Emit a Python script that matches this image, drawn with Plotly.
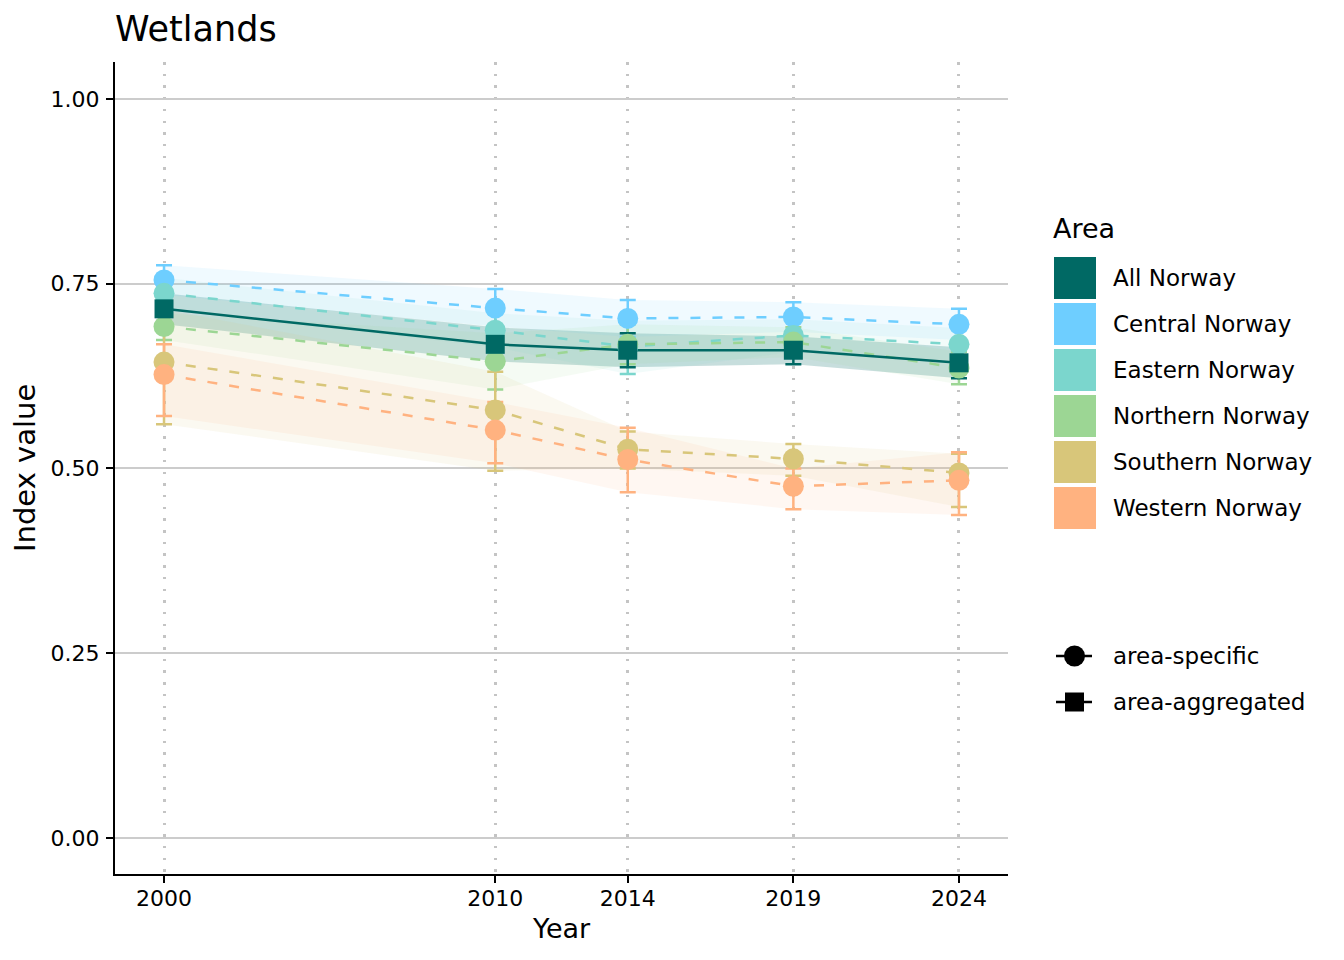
import plotly.graph_objects as go

# ---------------- data ----------------
years = [2000, 2010, 2014, 2019, 2024]
year_labels = ["2000", "2010", "2014", "2019", "2024"]
y_ticks = [0.0, 0.25, 0.5, 0.75, 1.0]
y_tick_labels = ["0.00", "0.25", "0.50", "0.75", "1.00"]

areas = ["All Norway", "Central Norway", "Eastern Norway",
         "Northern Norway", "Southern Norway", "Western Norway"]

all_mean = [0.716, 0.668, 0.660, 0.660, 0.643]
all_low = [0.695, 0.645, 0.637, 0.641, 0.622]
all_high = [0.737, 0.691, 0.683, 0.679, 0.664]

central_mean = [0.755, 0.717, 0.703, 0.705, 0.695]
central_low = [0.735, 0.692, 0.678, 0.685, 0.674]
central_high = [0.775, 0.743, 0.728, 0.725, 0.716]

eastern_mean = [0.737, 0.687, 0.665, 0.680, 0.668]
eastern_low = [0.716, 0.664, 0.628, 0.658, 0.646]
eastern_high = [0.758, 0.710, 0.700, 0.702, 0.690]

northern_mean = [0.692, 0.645, 0.668, 0.671, 0.636]
northern_low = [0.674, 0.607, 0.641, 0.651, 0.614]
northern_high = [0.710, 0.683, 0.695, 0.691, 0.658]

southern_mean = [0.644, 0.579, 0.526, 0.513, 0.494]
southern_low = [0.560, 0.497, 0.500, 0.490, 0.448]
southern_high = [0.715, 0.631, 0.550, 0.533, 0.520]

western_mean = [0.627, 0.552, 0.512, 0.476, 0.484]
western_low = [0.571, 0.507, 0.468, 0.445, 0.437]
western_high = [0.668, 0.590, 0.555, 0.500, 0.522]

series = {
    "All Norway": (all_mean, all_low, all_high),
    "Central Norway": (central_mean, central_low, central_high),
    "Eastern Norway": (eastern_mean, eastern_low, eastern_high),
    "Northern Norway": (northern_mean, northern_low, northern_high),
    "Southern Norway": (southern_mean, southern_low, southern_high),
    "Western Norway": (western_mean, western_low, western_high),
}

colors = {
    "All Norway": "#006964",
    "Central Norway": "#6ECEFF",
    "Eastern Norway": "#7BD6CD",
    "Northern Norway": "#9CD694",
    "Southern Norway": "#D8C67A",
    "Western Norway": "#FFB280",
}

shape_labels = ["area-specific", "area-aggregated"]

# ---------------- layout geometry (screen pixels) ----------------
SCREEN_W, SCREEN_H = 1344, 960
OFF = 8  # page body margin
W, H = SCREEN_W - OFF, SCREEN_H - OFF
L, R, T, B = 115, 1008, 62, 874


def px_x(px):
    return (px - L) / (R - L)


def px_y(py):
    return (B - py) / (B - T)


def rgba(hexc, a):
    hexc = hexc.lstrip("#")
    r, g, b = int(hexc[0:2], 16), int(hexc[2:4], 16), int(hexc[4:6], 16)
    return f"rgba({r},{g},{b},{a})"


specific = areas[1:]
draw_order = specific + ["All Norway"]

fig = go.Figure()

# ribbons
for a in areas:
    m, lo, hi = series[a]
    alpha = 0.22 if a == "All Norway" else 0.10
    fig.add_trace(go.Scatter(x=years, y=lo, mode="lines", line=dict(width=0),
                             showlegend=False, hoverinfo="skip"))
    fig.add_trace(go.Scatter(x=years, y=hi, mode="lines", line=dict(width=0),
                             fill="tonexty", fillcolor=rgba(colors[a], alpha),
                             showlegend=False, hoverinfo="skip"))

# lines
for a in draw_order:
    m, lo, hi = series[a]
    fig.add_trace(go.Scatter(
        x=years, y=m, mode="lines",
        line=dict(color=colors[a], width=2.5,
                  dash="solid" if a == "All Norway" else "10px,12px"),
        showlegend=False, hoverinfo="skip"))

# error bars
for a in draw_order:
    m, lo, hi = series[a]
    fig.add_trace(go.Scatter(
        x=years, y=m, mode="markers",
        marker=dict(size=1, color="rgba(0,0,0,0)"),
        error_y=dict(type="data", symmetric=False,
                     array=[h - v for h, v in zip(hi, m)],
                     arrayminus=[v - l for v, l in zip(m, lo)],
                     color=colors[a], thickness=2.5, width=8),
        showlegend=False, hoverinfo="skip"))

# points
for a in draw_order:
    m, lo, hi = series[a]
    agg = a == "All Norway"
    fig.add_trace(go.Scatter(
        x=years, y=m, mode="markers",
        marker=dict(symbol="square" if agg else "circle",
                    size=19 if agg else 21, color=colors[a],
                    line=dict(width=0)),
        name=a, showlegend=False))

# ---------------- manual legends ----------------
shapes = []
annotations = []
FONT = "DejaVu Sans"

annotations.append(dict(text="Area", x=px_x(1051), y=px_y(228), xref="paper", yref="paper",
                        xanchor="left", yanchor="middle", showarrow=False,
                        font=dict(size=27, color="black", family=FONT)))
for i, a in enumerate(areas):
    top = 257 + 46 * i
    shapes.append(dict(type="rect", xref="paper", yref="paper",
                       x0=px_x(1054), x1=px_x(1096), y0=px_y(top + 42), y1=px_y(top),
                       fillcolor=colors[a], line=dict(width=0)))
    annotations.append(dict(text=a, x=px_x(1111), y=px_y(top + 21), xref="paper", yref="paper",
                            xanchor="left", yanchor="middle", showarrow=False,
                            font=dict(size=23, color="black", family=FONT)))

for i, lab in enumerate(shape_labels):
    cy = 656 + 46 * i
    shapes.append(dict(type="line", xref="paper", yref="paper",
                       x0=px_x(1056), x1=px_x(1092), y0=px_y(cy), y1=px_y(cy),
                       line=dict(color="black", width=2.5)))
    if i == 0:
        shapes.append(dict(type="circle", xref="paper", yref="paper",
                           x0=px_x(1064), x1=px_x(1085), y0=px_y(cy + 10.5), y1=px_y(cy - 10.5),
                           fillcolor="black", line=dict(width=0)))
    else:
        shapes.append(dict(type="rect", xref="paper", yref="paper",
                           x0=px_x(1065), x1=px_x(1084), y0=px_y(cy + 9.5), y1=px_y(cy - 9.5),
                           fillcolor="black", line=dict(width=0)))
    annotations.append(dict(text=lab, x=px_x(1111), y=px_y(cy), xref="paper", yref="paper",
                            xanchor="left", yanchor="middle", showarrow=False,
                            font=dict(size=23, color="black", family=FONT)))

# axis titles
annotations.append(dict(text="Year", x=0.5, y=px_y(928), xref="paper", yref="paper",
                        xanchor="center", yanchor="middle", showarrow=False,
                        font=dict(size=27, color="black", family=FONT)))
annotations.append(dict(text="Index value", x=px_x(25), y=0.5, xref="paper", yref="paper",
                        xanchor="center", yanchor="middle", showarrow=False, textangle=-90,
                        font=dict(size=29, color="black", family=FONT)))

fig.update_layout(
    width=W, height=H,
    margin=dict(l=L - OFF, r=SCREEN_W - R, t=T - OFF, b=SCREEN_H - B, pad=0),
    paper_bgcolor="white", plot_bgcolor="white",
    font=dict(family=FONT, color="black"),
    title=dict(text="Wetlands", x=0, xref="paper", xanchor="left",
               y=1 - (29 - OFF) / H, yref="container", yanchor="middle",
               font=dict(size=35, color="black", family=FONT)),
    shapes=shapes, annotations=annotations,
    showlegend=False,
)

fig.update_xaxes(
    range=[1998.52, 2025.48], tickmode="array", tickvals=years, ticktext=year_labels,
    showgrid=True, gridcolor="#C4C4C4", gridwidth=2.5, griddash="2.5px,9.2px",
    showline=True, linecolor="black", linewidth=2.2, mirror=False,
    ticks="outside", ticklen=7, tickwidth=2, tickcolor="black", ticklabelstandoff=-4,
    tickfont=dict(size=22, color="black", family=FONT), zeroline=False,
)
fig.update_yaxes(
    range=[-0.0487, 1.05], tickmode="array", tickvals=y_ticks, ticktext=y_tick_labels,
    showgrid=True, gridcolor="#CCCCCC", gridwidth=2,
    showline=True, linecolor="black", linewidth=2.2, mirror=False,
    ticks="outside", ticklen=7, tickwidth=2, tickcolor="black", ticklabelstandoff=2,
    tickfont=dict(size=22, color="black", family=FONT), zeroline=False,
)

fig.write_html("out.html")
